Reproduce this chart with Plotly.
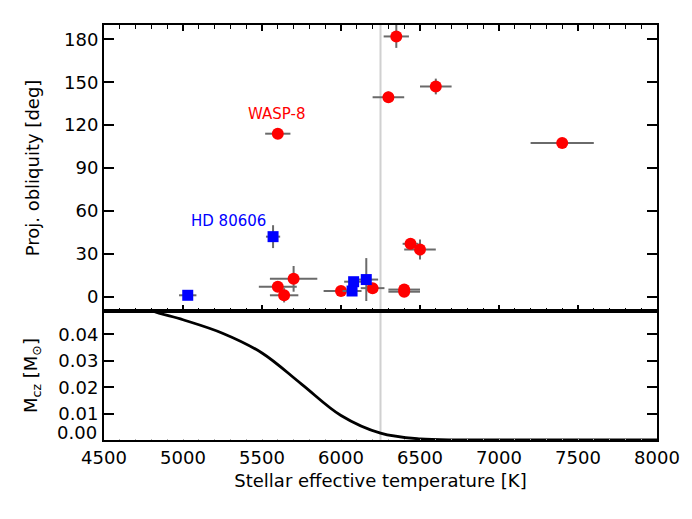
import plotly.graph_objects as go

# Red (circles)
red_teff = [6350, 6300, 6600, 7400, 5600, 5600, 5640, 5700, 6000, 6200, 6400, 6400, 6440, 6500]
red_lam = [182, 139.5, 147, 107.5, 114, 7, 1, 12.5, 4, 6, 5, 3.5, 37, 33]
red_teff_err = [80, 100, 100, 200, 80, 120, 90, 150, 110, 75, 100, 100, 50, 100]
red_lam_err = [8, 4, 5.5, 1.5, 2, 2, 5, 9, 1, 2, 2, 2, 3, 7]

# Blue (squares)
blue_teff = [5030, 5570, 6070, 6080, 6160]
blue_lam = [1, 42, 4, 10.5, 12]
blue_teff_err = [55, 45, 60, 60, 75]
blue_lam_err = [2, 8, 3, 3, 15]

# Convective zone mass curve
cz_teff = [4750, 4809, 5000, 5250, 5500, 5750, 6000, 6250, 6500, 6750, 7000, 8000]
cz_mass = [0.0510, 0.0489, 0.0456, 0.0405, 0.0330, 0.0212, 0.0093, 0.0026, 0.0004,
           0.00005, 0.0, 0.0]

teff_kraft = 6250

x_ticks = [4500, 5000, 5500, 6000, 6500, 7000, 7500, 8000]
lam_ticks = [0, 30, 60, 90, 120, 150, 180]
mcz_ticks = [0.01, 0.02, 0.03, 0.04]

FONT = "DejaVu Sans"
ERRC = "#6a6a6a"
D_SPLIT = 0.3108

fig = go.Figure()

fig.add_trace(go.Scatter(
    x=red_teff, y=red_lam, mode="markers", xaxis="x", yaxis="y",
    marker=dict(symbol="circle", size=12, color="#ff0000", line=dict(width=0)),
    error_x=dict(type="data", array=red_teff_err, color=ERRC, thickness=2, width=0),
    error_y=dict(type="data", array=red_lam_err, color=ERRC, thickness=2, width=0),
    showlegend=False))

fig.add_trace(go.Scatter(
    x=blue_teff, y=blue_lam, mode="markers", xaxis="x", yaxis="y",
    marker=dict(symbol="square", size=11, color="#0000ff", line=dict(width=0)),
    error_x=dict(type="data", array=blue_teff_err, color=ERRC, thickness=2, width=0),
    error_y=dict(type="data", array=blue_lam_err, color=ERRC, thickness=2, width=0),
    showlegend=False))

fig.add_trace(go.Scatter(
    x=cz_teff, y=cz_mass, mode="lines", xaxis="x2", yaxis="y2",
    line=dict(color="black", width=2.8, shape="spline", smoothing=1.0),
    showlegend=False))

# Kraft break line through both panels
fig.add_shape(type="line", xref="x", yref="paper", x0=teff_kraft, x1=teff_kraft, y0=0, y1=1,
              line=dict(color="#d0d0d0", width=2), layer="below")

fig.add_annotation(x=5594, y=128, xref="x", yref="y", text="WASP-8", showarrow=False,
                   font=dict(family=FONT, size=15, color="#ff0000"))
fig.add_annotation(x=5286, y=53, xref="x", yref="y", text="HD 80606", showarrow=False,
                   font=dict(family=FONT, size=15, color="#0000ff"))
# the 0.00 label sits slightly above its tick, as in the reference
fig.add_annotation(x=0, y=0, xref="paper", yref="y2", text="0.00", showarrow=False,
                   xanchor="right", yanchor="middle", xshift=-5, yshift=7,
                   font=dict(family=FONT, size=18, color="black"))

tickfont = dict(family=FONT, size=18, color="black")
minor_x = dict(dtick=100, tick0=4500, ticks="inside", ticklen=3.5, tickcolor="black",
               tickwidth=1.2, showgrid=False)

fig.update_layout(
    xaxis=dict(domain=[0, 1], anchor="y", range=[4500, 8000], tickvals=x_ticks,
               ticks="inside", ticklen=6, tickwidth=1.5, tickcolor="black",
               showline=True, linecolor="black", linewidth=2, mirror="allticks",
               showgrid=False, zeroline=False, showticklabels=False, minor=minor_x,
               automargin=False),
    yaxis=dict(domain=[D_SPLIT, 1], anchor="x", range=[-10, 190], tickvals=lam_ticks,
               ticks="inside", ticklen=10, tickwidth=1.5, tickcolor="black",
               showline=True, linecolor="black", linewidth=2, mirror="allticks",
               showgrid=False, zeroline=False, tickfont=tickfont, automargin=False,
               title=dict(text="Proj. obliquity [deg]", font=tickfont, standoff=20)),
    xaxis2=dict(domain=[0, 1], anchor="y2", range=[4500, 8000], tickvals=x_ticks,
                ticks="inside", ticklen=1.5, tickwidth=1, tickcolor="#b0b0b0",
                showline=True, linecolor="black", linewidth=2, mirror=True,
                showgrid=False, zeroline=False, tickfont=tickfont, automargin=False,
                minor=dict(dtick=100, tick0=4500, ticks="inside", ticklen=1.5,
                           tickcolor="#b0b0b0", tickwidth=1, showgrid=False),
                title=dict(text="Stellar effective temperature [K]", font=tickfont,
                           standoff=8)),
    # ticks on the top edge of the lower panel
    xaxis3=dict(overlaying="x2", anchor="y2", side="top", range=[4500, 8000],
                tickvals=x_ticks, ticks="inside", ticklen=6, tickwidth=1.5,
                tickcolor="black", showline=False, showgrid=False, zeroline=False,
                showticklabels=False, minor=minor_x, automargin=False),
    yaxis2=dict(domain=[0, D_SPLIT], anchor="x2", range=[0, 0.0489], tickvals=mcz_ticks,
                tickformat=".2f", ticks="inside", ticklen=10, tickwidth=1.5,
                tickcolor="black", showline=True, linecolor="black", linewidth=2,
                mirror="allticks", showgrid=False, zeroline=False, tickfont=tickfont,
                automargin=False,
                title=dict(text="M<sub>cz</sub> [M<sub>⊙</sub>]", font=tickfont,
                           standoff=16)),
    width=692, height=519, margin=dict(l=104, r=35, t=25, b=79),
    paper_bgcolor="white", plot_bgcolor="white",
    font=dict(family=FONT, size=18, color="black"),
)

fig.write_html("out.html",
               config={"displayModeBar": False},
               post_script="document.body.style.margin='0px';"
                           "document.body.style.padding='0px';"
                           "document.body.style.overflow='hidden';")
